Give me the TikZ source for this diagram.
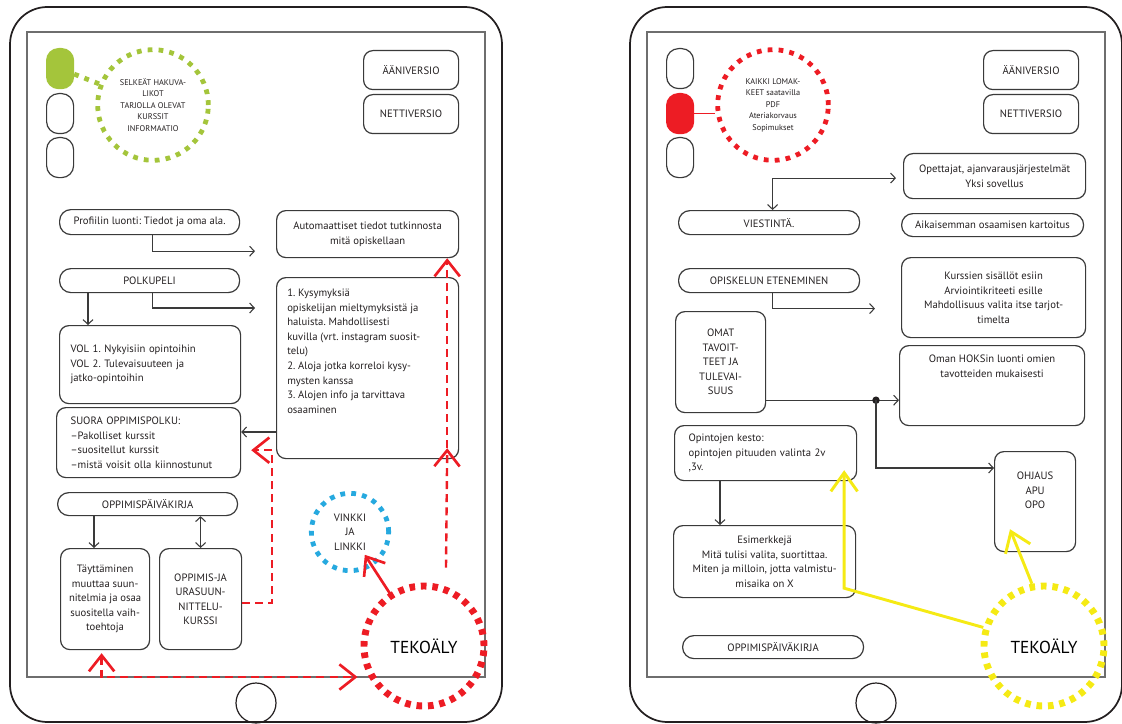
\documentclass[tikz,border=0pt]{standalone}
\usepackage{fontspec}
\setmainfont{PT Sans}
\usetikzlibrary{arrows.meta,calc}
\definecolor{ink}{HTML}{231F20}
\definecolor{edge}{HTML}{3A3A3A}
\definecolor{scr}{HTML}{6E6E6E}
\definecolor{hotred}{HTML}{ED1C24}
\definecolor{leaf}{HTML}{A4C53B}
\definecolor{sky}{HTML}{26A9DF}
\definecolor{sun}{HTML}{F5EA14}
\newcommand\bodyfont{\fontsize{8}{10.9}\selectfont}
\newcommand\ringfont{\fontsize{6.2}{8.6}\selectfont}
\newcommand\bigfont{\fontsize{13}{15}\selectfont}
\frenchspacing
% tablet body, screen and home button, shifted horizontally by the argument (px)
\newcommand\tabletframe[1]{%
  \begin{scope}[shift={(#1,0)}]
    \draw[line width=1.3pt, draw=ink, rounded corners=28pt] (10,7) rectangle (502,722);
    \draw[line width=1.1pt, draw=scr] (27,32) rectangle (485,677);
    \draw[line width=0.9pt, draw=ink] (256,703) circle[radius=15pt];
  \end{scope}}
\tikzset{
  box/.style={draw=edge, line width=0.9pt, rounded corners=7pt, font=\bodyfont, text=ink,
    inner sep=0pt, align=center, anchor=north west},
  pill/.style={box, rounded corners=8.5pt},
  side/.style={draw=edge, line width=0.9pt, rounded corners=9pt, minimum width=20.25pt,
    minimum height=30pt, inner sep=0pt, anchor=north west},
  txt/.style={font=\bodyfont, text=ink, inner sep=0pt},
  ring/.style={circle, line width=3.6pt, dash pattern=on 3.6pt off 4.6pt,
    inner sep=0pt, font=\ringfont, text=ink, align=center},
  bigring/.style={circle, line width=5.2pt, dash pattern=on 4.2pt off 4.4pt,
    inner sep=0pt, font=\bigfont, text=black, minimum size=90pt},
  arr/.style={draw=edge, line width=0.8pt, -{Straight Barb[length=3.5pt,width=7.5pt]}},
  arrs/.style={draw=edge, line width=0.8pt,
    {Straight Barb[length=3.5pt,width=7.5pt]}-{Straight Barb[length=3.5pt,width=7.5pt]}},
  rdash/.style={draw=hotred, line width=1.8pt, dash pattern=on 6pt off 3.8pt},
  redtip/.style={-{Straight Barb[length=12pt,width=19pt,line width=2pt]}},
  redtips/.style={{Straight Barb[length=12pt,width=19pt,line width=2pt]}-{Straight Barb[length=12pt,width=19pt,line width=2pt]}},
  yline/.style={draw=sun, line width=2.2pt, -{Straight Barb[length=14pt,width=20pt,line width=2.2pt]}},
}
\begin{document}
\begin{tikzpicture}[x=0.75pt,y=-0.75pt]
\useasboundingbox (0,0) rectangle (1122,724);
\tabletframe{0}
\tabletframe{620}

% ---------------- left tablet ----------------
\node[side, fill=leaf, draw=leaf] (lb1) at (46,48) {};
\node[side] (lb2) at (46,93) {};
\node[side] (lb3) at (46,137) {};
\node[ring, draw=leaf, minimum size=83pt] (gring) at (153,105)
  {SELKEÄT HAKUVA-\\LIKOT\\TARJOLLA OLEVAT\\KURSSIT\\INFORMAATIO};
\draw[leaf, line width=3.6pt, dash pattern=on 3.6pt off 4.6pt] (lb1) -- (gring);

\node[box, minimum width=71.25pt, minimum height=29.25pt] (aan) at (363,50) {ÄÄNIVERSIO};
\node[box, minimum width=71.25pt, minimum height=29.25pt] (netti) at (363,94) {NETTIVERSIO};

\node[pill, minimum width=135pt, minimum height=18.75pt] (prof) at (59,209) {Profiilin luonti: Tiedot ja oma ala.};
\node[box, minimum width=136.5pt, minimum height=35.25pt] (auto) at (276,210) {Automaattiset tiedot tutkinnosta\\mitä opiskellaan};
\node[pill, minimum width=135pt, minimum height=18pt] (polku) at (59,268) {POLKUPELI};
\node[box, minimum width=135.75pt, minimum height=58.5pt, align=left, text width=119.25pt, inner xsep=8.25pt] (vol) at (59,325)
  {VOL 1. Nykyisiin opintoihin\\VOL 2. Tulevaisuuteen ja\\jatko-opintoihin};
\node[box, minimum width=136.5pt, minimum height=135.75pt] (kys) at (276,277) {};
\node[txt, anchor=north west, align=left] (kyst) at ($(kys.north west)+(11,12)$)
  {1. Kysymyksiä\\opiskelijan mieltymyksistä ja\\haluista. Mahdollisesti\\kuvilla (vrt. instagram suosit-\\telu)\\2. Aloja jotka korreloi kysy-\\mysten kanssa\\3. Alojen info ja tarvittava\\osaaminen};
\node[box, minimum width=138pt, minimum height=52.5pt, align=left, text width=117pt, inner xsep=10.5pt] (suora) at (56,407)
  {SUORA OPPIMISPOLKU:\\–Pakolliset kurssit\\–suositellut kurssit\\–mistä voisit olla kiinnostunut};
\node[pill, minimum width=135pt, minimum height=17.25pt] (paiv) at (57,492) {OPPIMISPÄIVÄKIRJA};
\node[box, minimum width=66.75pt, minimum height=75.75pt] (tayt) at (60,548)
  {Täyttäminen\\muuttaa suun-\\nitelmia ja osaa\\suositella vaih-\\toehtoja};
\node[box, minimum width=61.5pt, minimum height=75.75pt] (kurssi) at (159,548) {OPPIMIS-JA\\URASUUN-\\NITTELU-\\KURSSI};

\node[ring, draw=sky, minimum size=58pt, font=\bodyfont] (vinkki) at (350,532) {VINKKI\\JA\\LINKKI};
\node[bigring, draw=hotred] (tekoL) at (424,646) {TEKOÄLY};

% black connectors
\draw[arr] ($(prof.south)+(3,0)$) |- ($(auto.south west)+(-21,-7)$);
\draw[arr] ($(polku.south)+(3,0)$) |- ($(kys.north west)+(-21,31)$);
\draw[arr] ($(polku.south west)+(29,0)$) -- ($(vol.north west)+(29,0)$);
\draw[arr] ($(kys.north west)+(0,155)$) -- ($(suora.north east)+(0,25)$);
\draw[arr] ($(paiv.south west)+(37,0)$) -- ($(tayt.north west)+(34,0)$);
\draw[arrs] (kurssi.north |- paiv.south) -- (kurssi.north);

% red connectors
\draw[rdash, redtip] ($(kurssi.north east)+(0,55)$) -| ($(suora.south east)+(31,-28)$) -- ($(suora.south east)+(10,-28)$);
\draw[rdash, redtip] ($(tekoL.north)+(22,-15)$) -- ($(kys.south east)+(-12,-11)$);
\draw[rdash, redtip] ($(kys.south east)+(-12,-11)$) -- ($(auto.south east)+(-12,0)$);
\draw[rdash, redtips] ($(tayt.south)+(-3.5,3)$) |- ($(tekoL.west)+(-3,31)$);
\draw[hotred, line width=2pt, redtip] ($(tekoL.center)!0.43!(vinkki.center)$) -- ($(tekoL.center)!0.8!(vinkki.center)$);

% ---------------- right tablet ----------------
\node[side] (rb1) at (666,48) {};
\node[side, fill=hotred, draw=hotred] (rb2) at (666,93) {};
\node[side] (rb3) at (666,137) {};
\node[ring, draw=hotred, minimum size=83pt] (rring) at (773,105)
  {KAIKKI LOMAK-\\KEET saatavilla\\PDF\\Ateriakorvaus\\Sopimukset};
\draw[hotred, line width=0.8pt] (rb2.east) -- (rb2.east -| rring.west);

\node[box, minimum width=71.25pt, minimum height=29.25pt] (aan2) at (983,50) {ÄÄNIVERSIO};
\node[box, minimum width=71.25pt, minimum height=29.25pt] (netti2) at (983,94) {NETTIVERSIO};

\node[box, minimum width=136.5pt, minimum height=33.75pt] (opet) at (903,153) {Opettajat, ajanvarausjärjestelmät\\Yksi sovellus};
\node[pill, minimum width=135.75pt, minimum height=18pt] (viest) at (678,210) {VIESTINTÄ.};
\node[pill, minimum width=136.5pt, minimum height=17.25pt] (aika) at (901,213) {Aikaisemman osaamisen kartoitus};
\node[pill, minimum width=135.75pt, minimum height=18pt] (opisk) at (678,268) {OPISKELUN ETENEMINEN};
\node[box, minimum width=138pt, minimum height=60pt] (kurs) at (901,257)
  {Kurssien sisällöt esiin\\Arviointikriteeti esille\\Mahdollisuus valita itse tarjot-\\timelta};
\node[box, minimum width=67.5pt, minimum height=75.75pt] (omat) at (675,311) {OMAT\\TAVOIT-\\TEET JA\\TULEVAI-\\SUUS};
\node[box, minimum width=138.75pt, minimum height=60pt] (hoks) at (899,345) {};
\node[txt, anchor=north, align=center] (hokst) at ($(hoks.north)+(0,10)$)
  {Oman HOKSin luonti omien\\tavotteiden mukaisesti};
\node[box, minimum width=60.75pt, minimum height=75pt] (ohj) at (994,451) {};
\node[txt, anchor=north, align=center] (ohjt) at ($(ohj.north)+(0,21)$) {OHJAUS\\APU\\OPO};
\node[box, minimum width=136.5pt, minimum height=41.25pt, align=left, text width=115.5pt, inner xsep=10.5pt] (kesto) at (674,425)
  {Opintojen kesto:\\opintojen pituuden valinta 2v\\,3v.};
\node[box, minimum width=136.5pt, minimum height=54pt] (esim) at (673,525)
  {Esimerkkejä\\Mitä tulisi valita, suortittaa.\\Miten ja milloin, jotta valmistu-\\misaika on X};
\node[pill, minimum width=135.75pt, minimum height=17.25pt] (paiv2) at (682,635) {OPPIMISPÄIVÄKIRJA};
\node[bigring, draw=sun] (tekoR) at (1044,646) {TEKOÄLY};

% black connectors
\draw[arrs] ($(viest.north)+(3.5,0)$) |- ($(opet.west)+(-7,2)$);
\draw[arr] ($(opisk.south)+(3,0)$) |- ($(kurs.west)+(-26,11)$);
\draw[arr] ($(omat.south east)+(0,-13)$) -- ($(hoks.south west)+(0,-26)$);
\coordinate (split) at ($(hoks.south west)+(-23,-26)$);
\fill[ink] (split) circle[radius=2.8pt];
\draw[arr] (split) |- ($(ohj.north west)+(0,17)$);
\draw[arr] ($(kesto.south west)+(46,0)$) -- ($(esim.north west)+(47,0)$);

% yellow connectors
\draw[yline] (tekoR.163) -- ($(esim.south east)+(-12,-10)$) -- ($(kesto.south east)+(-13,-11)$);
\draw[yline] (tekoR.101) -- ($(ohj.south west)+(16,-23)$);
\end{tikzpicture}
\end{document}
